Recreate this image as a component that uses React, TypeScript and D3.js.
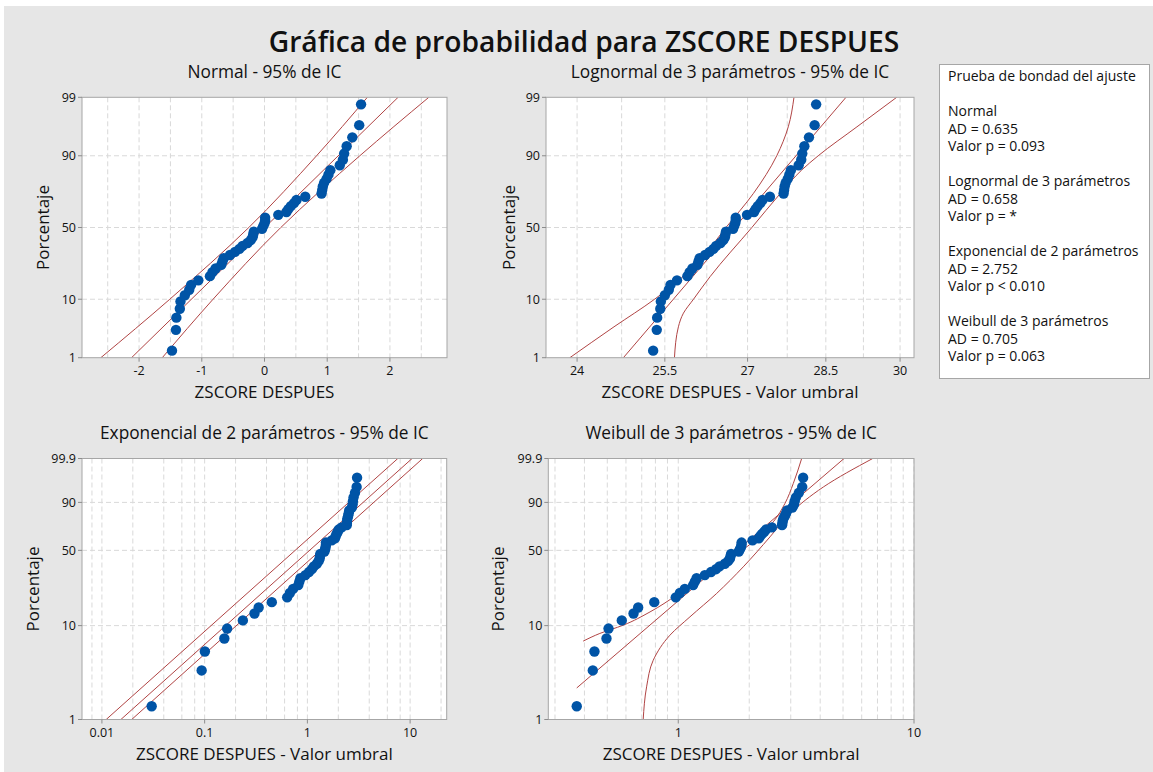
import React, { useRef, useEffect } from "react";
import * as d3 from "d3";

// ZSCORE DESPUES (n = 50), sorted
const zscoreDespues = [
  -1.475, -1.412, -1.405, -1.35, -1.34, -1.27, -1.2, -1.17, -1.055, -0.87,
  -0.83, -0.78, -0.69, -0.67, -0.65, -0.55, -0.47, -0.4, -0.35, -0.27,
  -0.22, -0.19, -0.18, -0.17, -0.04, -0.02, 0.0, 0.01, 0.01, 0.22,
  0.35, 0.38, 0.42, 0.47, 0.51, 0.65, 0.91, 0.92, 0.93, 0.95,
  0.99, 1.02, 1.05, 1.2, 1.25, 1.27, 1.31, 1.4, 1.51, 1.54,
];

// valor umbral (threshold) of each fitted distribution
const thresholdLognormal = -26.77;
const thresholdExponential = -1.5055;
const thresholdWeibull = -1.846;

// y ticks (percent)
const probTicksTop = [1, 10, 50, 90, 99];
const probTicksBottom = [1, 10, 50, 90, 99.9];

// x ticks / grid
const normalTicksX = [-2, -1, 0, 1, 2];
const normalGridX = [-2.5, -2, -1.5, -1, -0.5, 0, 0.5, 1, 1.5, 2, 2.5];
const lognormalTicksX = [24, 25.5, 27, 28.5, 30];
const lognormalGridX = [24, 24.75, 25.5, 26.25, 27, 27.75, 28.5, 29.25, 30];
const exponentialTicksX = [0.01, 0.1, 1, 10];
const exponentialGridX = [0.008, 0.01, 0.02, 0.04, 0.06, 0.08, 0.1, 0.2, 0.4, 0.6, 0.8, 1, 2, 4, 6, 8, 10, 20];
const weibullTicksX = [1, 10];
const weibullGridX = [0.3, 0.4, 0.5, 0.6, 0.7, 0.8, 0.9, 1, 2, 3, 4, 5, 6, 7, 8, 9, 10];

// fitted lines and 95% CI, as [percent, x]
const normalFit = [[1, -2.12], [99, 2.13]];
const normalCiLeft = [[1, -2.61], [10, -1.51], [50, -0.25], [90, 0.83], [99, 1.64]];
const normalCiRight = [[1, -1.63], [10, -0.82], [50, 0.26], [90, 1.52], [99, 2.62]];

const lognormalFit = [[1, 24.78], [99, 28.9]];
const lognormalCiLeft = [[1, 23.88], [3.8, 24.62], [10, 25.32], [25, 26.04], [50, 26.6], [72.9, 27.11], [90, 27.55], [96.4, 27.77], [99, 27.88]];
const lognormalCiRight = [[1, 25.67], [3.8, 25.74], [6.3, 25.83], [10, 26.01], [19, 26.31], [50, 27.08], [72.9, 27.62], [84.8, 28.03], [90, 28.35], [96.4, 29.12], [99, 29.93]];

const exponentialFit = [[1, 0.0153], [99.9, 10.45]];
const exponentialCiLeft = [[1, 0.011], [99.9, 7.59]];
const exponentialCiRight = [[1, 0.0195], [99.9, 13.25]];

const weibullFit = [[2.19, 0.371], [99.9, 5.05]];
const weibullCiLeft = [[6.9, 0.395], [8.3, 0.465], [10.1, 0.584], [13.8, 0.759], [20.2, 0.985], [30, 1.277], [43.2, 1.657], [57.6, 2.081], [75.7, 2.53], [89.4, 2.836], [97.5, 3.075], [99.9, 3.338]];
const weibullCiRight = [[1, 0.71], [2.25, 0.734], [4.33, 0.783], [7.96, 0.922], [12.3, 1.121], [21, 1.455], [36.8, 1.887], [62.1, 2.449], [82.5, 2.978], [96.6, 4.123], [99.9, 6.68]];

const goodnessLines = [
  "Prueba de bondad del ajuste",
  "",
  "Normal",
  "AD = 0.635",
  "Valor p = 0.093",
  "",
  "Lognormal de 3 parámetros",
  "AD = 0.658",
  "Valor p = *",
  "",
  "Exponencial de 2 parámetros",
  "AD = 2.752",
  "Valor p < 0.010",
  "",
  "Weibull de 3 parámetros",
  "AD = 0.705",
  "Valor p = 0.063",
];

const FONT = "'Open Sans', 'Noto Sans', sans-serif";
const LINE_COLOR = "#b04444";
const DOT_COLOR = "#0054a6";

// inverse normal cdf (Acklam)
function probit(p) {
  const a = [-39.69683028665376, 220.9460984245205, -275.9285104469687, 138.357751867269, -30.66479806614716, 2.506628277459239];
  const b = [-54.47609879822406, 161.5858368580409, -155.6989798598866, 66.80131188771972, -13.28068155288572];
  const c = [-0.007784894002430293, -0.3223964580411365, -2.400758277161838, -2.549732539343734, 4.374664141464968, 2.938163982698783];
  const d = [0.007784695709041462, 0.3224671290700398, 2.445134137142996, 3.754408661907416];
  const pl = 0.02425;
  if (p < pl) {
    const q = Math.sqrt(-2 * Math.log(p));
    return (((((c[0] * q + c[1]) * q + c[2]) * q + c[3]) * q + c[4]) * q + c[5]) /
      ((((d[0] * q + d[1]) * q + d[2]) * q + d[3]) * q + 1);
  }
  if (p > 1 - pl) {
    const q = Math.sqrt(-2 * Math.log(1 - p));
    return -(((((c[0] * q + c[1]) * q + c[2]) * q + c[3]) * q + c[4]) * q + c[5]) /
      ((((d[0] * q + d[1]) * q + d[2]) * q + d[3]) * q + 1);
  }
  const q = p - 0.5;
  const r = q * q;
  return ((((((a[0] * r + a[1]) * r + a[2]) * r + a[3]) * r + a[4]) * r + a[5]) * q) /
    (((((b[0] * r + b[1]) * r + b[2]) * r + b[3]) * r + b[4]) * r + 1);
}

// weibull paper
const weibullT = (p) => Math.log(-Math.log(1 - p));

const App = () => {
  const d3Container = useRef(null);

  useEffect(() => {
    if (!d3Container.current) return;
    const svg = d3.select(d3Container.current);
    svg.selectAll("*").remove();

    svg.append("rect").attr("x", 4).attr("y", 6).attr("width", 1149).attr("height", 766).attr("fill", "#e6e6e6");

    svg
      .append("text")
      .attr("x", 584)
      .attr("y", 52)
      .attr("text-anchor", "middle")
      .attr("font-family", FONT)
      .attr("font-weight", 600)
      .attr("font-size", 28.2)
      .attr("fill", "#111")
      .text("Gráfica de probabilidad para ZSCORE DESPUES");

    const panels = [
      {
        id: "normal",
        title: "Normal - 95% de IC",
        xLabel: "ZSCORE DESPUES",
        box: { x0: 82, x1: 447, y0: 97.3, y1: 357.7 },
        log: false,
        xDomain: [-2.91, 2.91],
        xTicks: normalTicksX,
        xGrid: normalGridX,
        paper: probit,
        yTicks: probTicksTop,
        threshold: 0,
        fit: normalFit,
        bands: [normalCiLeft, normalCiRight],
        yLabelX: 49,
      },
      {
        id: "lognormal",
        title: "Lognormal de 3 parámetros - 95% de IC",
        xLabel: "ZSCORE DESPUES - Valor umbral",
        box: { x0: 546, x1: 914, y0: 97.3, y1: 357.7 },
        log: true,
        xDomain: [23.49, 30.29],
        xTicks: lognormalTicksX,
        xGrid: lognormalGridX,
        paper: probit,
        yTicks: probTicksTop,
        threshold: thresholdLognormal,
        fit: lognormalFit,
        bands: [lognormalCiLeft, lognormalCiRight],
        yLabelX: 515,
      },
      {
        id: "exponential",
        title: "Exponencial de 2 parámetros - 95% de IC",
        xLabel: "ZSCORE DESPUES - Valor umbral",
        box: { x0: 82, x1: 446.7, y0: 458.5, y1: 719.5 },
        log: true,
        xDomain: [0.0064, 22.7],
        xTicks: exponentialTicksX,
        xGrid: exponentialGridX,
        paper: weibullT,
        yTicks: probTicksBottom,
        threshold: thresholdExponential,
        fit: exponentialFit,
        bands: [exponentialCiLeft, exponentialCiRight],
        yLabelX: 38.5,
      },
      {
        id: "weibull",
        title: "Weibull de 3 parámetros - 95% de IC",
        xLabel: "ZSCORE DESPUES - Valor umbral",
        box: { x0: 548.3, x1: 914, y0: 458.5, y1: 719.5 },
        log: true,
        xDomain: [0.281, 10],
        xTicks: weibullTicksX,
        xGrid: weibullGridX,
        paper: weibullT,
        yTicks: probTicksBottom,
        threshold: thresholdWeibull,
        fit: weibullFit,
        bands: [weibullCiLeft, weibullCiRight],
        yLabelX: 503.5,
      },
    ];

    const n = zscoreDespues.length;

    panels.forEach((pn) => {
      const { x0, x1, y0, y1 } = pn.box;
      const g = svg.append("g");

      const xScale = (pn.log ? d3.scaleLog() : d3.scaleLinear()).domain(pn.xDomain).range([x0, x1]);
      const yLin = d3
        .scaleLinear()
        .domain([pn.paper(pn.yTicks[0] / 100), pn.paper(pn.yTicks[pn.yTicks.length - 1] / 100)])
        .range([y1, y0]);
      const yScale = (pct) => yLin(pn.paper(pct / 100));

      g.append("rect").attr("x", x0).attr("y", y0).attr("width", x1 - x0).attr("height", y1 - y0).attr("fill", "white");

      // grid
      g.append("g")
        .selectAll("line")
        .data(pn.xGrid.filter((v) => v >= pn.xDomain[0] && v <= pn.xDomain[1]))
        .join("line")
        .attr("x1", (d) => xScale(d))
        .attr("x2", (d) => xScale(d))
        .attr("y1", y0)
        .attr("y2", y1)
        .attr("stroke", "#d9d9d9")
        .attr("stroke-dasharray", "5,3");
      g.append("g")
        .selectAll("line")
        .data(pn.yTicks.slice(1, -1))
        .join("line")
        .attr("x1", x0)
        .attr("x2", x1)
        .attr("y1", (d) => yScale(d))
        .attr("y2", (d) => yScale(d))
        .attr("stroke", "#d9d9d9")
        .attr("stroke-dasharray", "5,3");

      // clip
      const clipId = "clip-" + pn.id;
      svg.append("clipPath").attr("id", clipId).append("rect").attr("x", x0).attr("y", y0).attr("width", x1 - x0).attr("height", y1 - y0);

      const fitGen = d3
        .line()
        .x((d) => xScale(d[1]))
        .y((d) => yScale(d[0]));
      // bands: x is monotone in screen y, so interpolate along y
      const bandGen = d3
        .line()
        .x((d) => xScale(d[1]))
        .y((d) => yScale(d[0]))
        .curve(d3.curveMonotoneY);

      const lines = g.append("g").attr("clip-path", `url(#${clipId})`);
      lines.append("path").attr("d", fitGen(pn.fit)).attr("fill", "none").attr("stroke", LINE_COLOR).attr("stroke-width", 1);
      pn.bands.forEach((ln) => {
        const sorted = [...ln].sort((a, b) => b[0] - a[0]);
        lines.append("path").attr("d", bandGen(sorted)).attr("fill", "none").attr("stroke", LINE_COLOR).attr("stroke-width", 1);
      });

      // frame
      g.append("rect")
        .attr("x", x0)
        .attr("y", y0)
        .attr("width", x1 - x0)
        .attr("height", y1 - y0)
        .attr("fill", "none")
        .attr("stroke", "#a6a6a6");

      // points (median ranks)
      g.append("g")
        .selectAll("circle")
        .data(zscoreDespues.map((v, i) => ({ x: v - pn.threshold, p: ((i + 1 - 0.3) / (n + 0.4)) * 100 })))
        .join("circle")
        .attr("cx", (d) => xScale(d.x))
        .attr("cy", (d) => yScale(d.p))
        .attr("r", 5.2)
        .attr("fill", DOT_COLOR);

      // y ticks
      const yt = g.append("g").selectAll("g").data(pn.yTicks).join("g");
      yt.append("line")
        .attr("x1", x0 - 4)
        .attr("x2", x0)
        .attr("y1", (d) => yScale(d))
        .attr("y2", (d) => yScale(d))
        .attr("stroke", "#8c8c8c");
      yt.append("text")
        .attr("x", x0 - 6)
        .attr("y", (d) => yScale(d))
        .attr("dy", "0.36em")
        .attr("text-anchor", "end")
        .attr("font-family", FONT)
        .attr("font-size", 12.5)
        .attr("fill", "#111")
        .text((d) => String(d));

      // x ticks
      const xt = g.append("g").selectAll("g").data(pn.xTicks).join("g");
      xt.append("line")
        .attr("x1", (d) => xScale(d))
        .attr("x2", (d) => xScale(d))
        .attr("y1", y1)
        .attr("y2", y1 + 4)
        .attr("stroke", "#8c8c8c");
      xt.append("text")
        .attr("x", (d) => xScale(d))
        .attr("y", y1 + 17.5)
        .attr("text-anchor", "middle")
        .attr("font-family", FONT)
        .attr("font-size", 12.5)
        .attr("fill", "#111")
        .text((d) => String(d));

      // titles
      g.append("text")
        .attr("x", (x0 + x1) / 2)
        .attr("y", y0 - 19.5)
        .attr("text-anchor", "middle")
        .attr("font-family", FONT)
        .attr("font-size", 17.3)
        .attr("fill", "#111")
        .text(pn.title);
      g.append("text")
        .attr("x", (x0 + x1) / 2)
        .attr("y", y1 + 40.5)
        .attr("text-anchor", "middle")
        .attr("font-family", FONT)
        .attr("font-size", 17)
        .attr("fill", "#111")
        .text(pn.xLabel);
      g.append("text")
        .attr("transform", `translate(${pn.yLabelX},${(y0 + y1) / 2}) rotate(-90)`)
        .attr("text-anchor", "middle")
        .attr("font-family", FONT)
        .attr("font-size", 17)
        .attr("fill", "#111")
        .text("Porcentaje");
    });

    // goodness-of-fit box
    const lg = svg.append("g");
    lg.append("rect").attr("x", 939.5).attr("y", 64.5).attr("width", 210).attr("height", 314).attr("fill", "white").attr("stroke", "#a6a6a6");
    lg.selectAll("text")
      .data(goodnessLines)
      .join("text")
      .attr("x", 948)
      .attr("y", (d, i) => 81 + i * 17.5)
      .attr("font-family", FONT)
      .attr("font-size", 14)
      .attr("fill", "#111")
      .text((d) => d);
  }, []);

  return (
    <svg
      ref={d3Container}
      width={1153}
      height={772}
      style={{ position: "absolute", left: 0, top: 0, background: "white" }}
    />
  );
};

export default App;
